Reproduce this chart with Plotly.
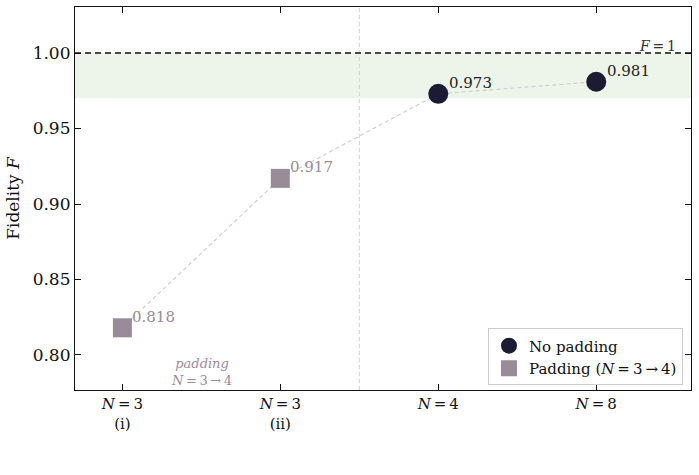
import plotly.graph_objects as go

# Data
categories = ["N=3 (i)", "N=3 (ii)", "N=4", "N=8"]
tick_labels = ["<i>N</i>\u2009=\u20093<br>(i)", "<i>N</i>\u2009=\u20093<br>(ii)",
               "<i>N</i>\u2009=\u20094", "<i>N</i>\u2009=\u20098"]
fidelity = [0.818, 0.917, 0.973, 0.981]
pad_idx = [0, 1]
nopad_idx = [2, 3]
pad_labels = ["0.818", "0.917"]
nopad_labels = ["0.973", "0.981"]

FONT = "DejaVu Serif"
DARK = "#1b1b33"
MAUVE = "#9a8b98"

x_all = list(range(len(categories)))

fig = go.Figure()

# green band
fig.add_shape(type="rect", xref="paper", yref="y", x0=0, x1=1, y0=0.97, y1=1.0,
              fillcolor="#edf5ea", line_width=0, layer="below")
# vertical separator
fig.add_shape(type="line", xref="x", yref="paper", x0=1.5, x1=1.5, y0=0, y1=1,
              line=dict(color="#d0d0d0", width=1.0, dash="4px,3px"), layer="below")
# F=1 line
fig.add_shape(type="line", xref="paper", yref="y", x0=0, x1=1, y0=1.0, y1=1.0,
              line=dict(color="#111111", width=1.5, dash="6px,4px"))

# connecting line
fig.add_trace(go.Scatter(x=x_all, y=fidelity, mode="lines",
                         line=dict(color="#cfcfcf", width=1.2, dash="4px,3px"),
                         showlegend=False, hoverinfo="skip"))

fig.add_trace(go.Scatter(x=[x_all[i] for i in nopad_idx], y=[fidelity[i] for i in nopad_idx],
                         mode="markers", name="No padding",
                         marker=dict(symbol="circle", size=20, color=DARK)))
fig.add_trace(go.Scatter(x=[x_all[i] for i in pad_idx], y=[fidelity[i] for i in pad_idx],
                         mode="markers", name="Padding (<i>N</i>\u2009=\u20093\u2009→\u20094)",
                         marker=dict(symbol="square", size=19, color=MAUVE)))

for i, lab in zip(nopad_idx, nopad_labels):
    fig.add_annotation(x=x_all[i], y=fidelity[i], text=lab, showarrow=False,
                       xanchor="left", yanchor="bottom", xshift=9, yshift=0,
                       font=dict(family=FONT, size=15, color="#222222"))
for i, lab in zip(pad_idx, pad_labels):
    fig.add_annotation(x=x_all[i], y=fidelity[i], text=lab, showarrow=False,
                       xanchor="left", yanchor="bottom", xshift=8, yshift=0,
                       font=dict(family=FONT, size=15, color=MAUVE))

fig.add_annotation(xref="paper", yref="y", x=0.979, y=1.0, text="<i>F</i>\u2009=\u20091",
                   showarrow=False, xanchor="right", yanchor="bottom", yshift=-3,
                   font=dict(family=FONT, size=14, color="#333333"))
fig.add_annotation(x=0.5, y=0.7888, text="<i>padding</i><br><i>N</i>\u2009=\u20093\u2009→\u20094",
                   showarrow=False, xanchor="center", yanchor="middle",
                   font=dict(family=FONT, size=13, color=MAUVE))

fig.update_layout(
    width=699, height=475,
    margin=dict(l=75, r=8, t=7, b=85),
    plot_bgcolor="white", paper_bgcolor="white",
    font=dict(family=FONT, size=15, color="#111111"),
    legend=dict(x=0.987, y=0.012, xanchor="right", yanchor="bottom",
                bgcolor="rgba(255,255,255,0.9)", bordercolor="#cccccc", borderwidth=1,
                font=dict(family=FONT, size=15), tracegroupgap=2),
    xaxis=dict(range=[-0.3, 3.6], tickmode="array", tickvals=x_all, ticktext=tick_labels,
               showgrid=False, zeroline=False, showline=True, linecolor="#111111",
               linewidth=1.2, mirror="ticks", ticks="inside", ticklen=6, tickcolor="#111111",
               tickfont=dict(family=FONT, size=15)),
    yaxis=dict(range=[0.7768, 1.0305], tickvals=[0.80, 0.85, 0.90, 0.95, 1.00],
               tickformat=".2f", showgrid=False, zeroline=False, showline=True,
               linecolor="#111111", linewidth=1.2, mirror="ticks", ticks="inside",
               ticklen=6, tickcolor="#111111", tickfont=dict(family=FONT, size=17),
               title=dict(text="Fidelity <i>F</i>", font=dict(family=FONT, size=17), standoff=8)),
)

fig.write_html("out.html")
